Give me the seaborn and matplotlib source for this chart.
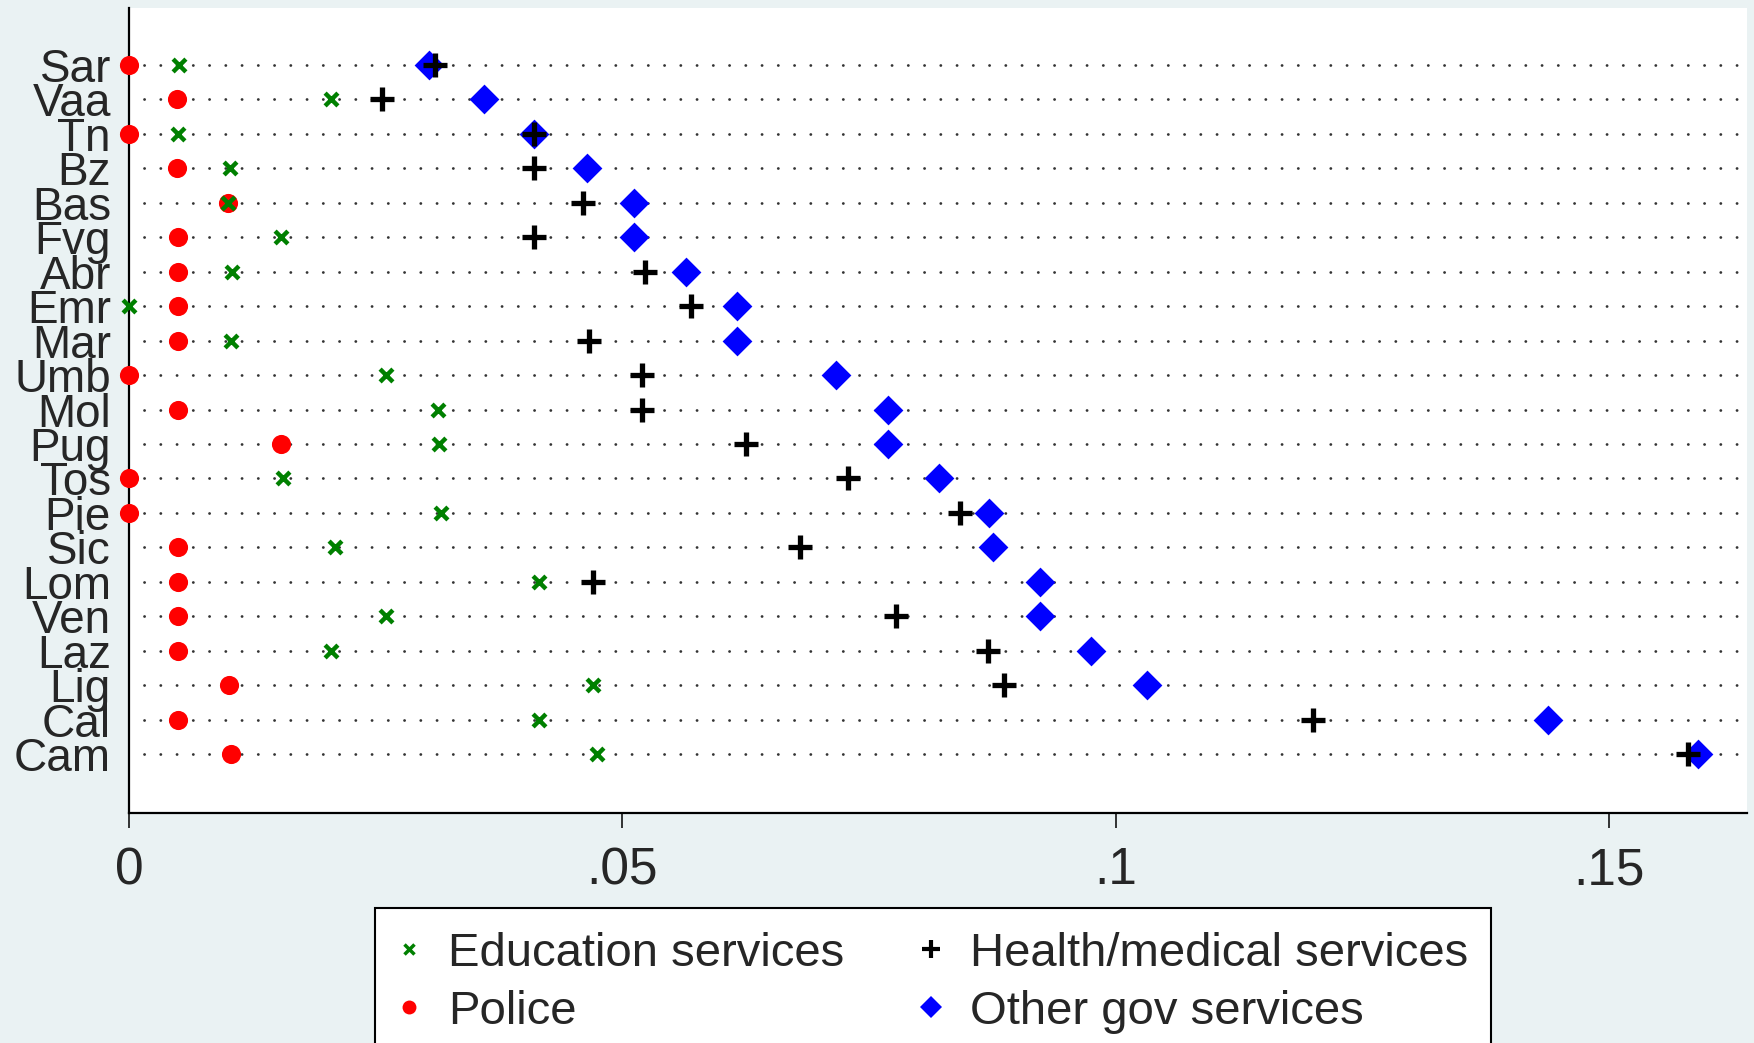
import pandas as pd
import matplotlib.pyplot as plt
from matplotlib.lines import Line2D
import numpy as np
import seaborn as sns

# Regioni, ordinate per "Other gov services"
regioni = ['Sar', 'Vaa', 'Tn', 'Bz', 'Bas', 'Fvg', 'Abr', 'Emr', 'Mar', 'Umb', 'Mol',
           'Pug', 'Tos', 'Pie', 'Sic', 'Lom', 'Ven', 'Laz', 'Lig', 'Cal', 'Cam']

education = [0.0051, 0.0205, 0.0050, 0.0102, 0.0100, 0.0154, 0.0104, 0.0000, 0.0103, 0.0260, 0.0313,
             0.0314, 0.0156, 0.0316, 0.0209, 0.0416, 0.0260, 0.0205, 0.0470, 0.0416, 0.0474]
police = [0.0000, 0.0049, 0.0000, 0.0049, 0.0100, 0.0050, 0.0050, 0.0050, 0.0050, 0.0000, 0.0050,
          0.0154, 0.0000, 0.0000, 0.0050, 0.0050, 0.0050, 0.0050, 0.0101, 0.0050, 0.0103]
health = [0.0310, 0.0256, 0.0410, 0.0410, 0.0460, 0.0410, 0.0523, 0.0570, 0.0466, 0.0520, 0.0520,
          0.0625, 0.0729, 0.0842, 0.0680, 0.0470, 0.0777, 0.0871, 0.0887, 0.1200, 0.1580]
other = [0.0304, 0.0360, 0.0410, 0.0464, 0.0512, 0.0512, 0.0565, 0.0616, 0.0616, 0.0717, 0.0769,
         0.0769, 0.0821, 0.0872, 0.0876, 0.0923, 0.0923, 0.0975, 0.1032, 0.1438, 0.1590]

etichette = ['Education services', 'Police', 'Health/medical services', 'Other gov services']

pos = np.arange(len(regioni))
df = pd.DataFrame({'regione': regioni, 'pos': pos, 'edu': education, 'police': police,
                   'health': health, 'other': other})

sns.set_style('white')
plt.rcParams['font.family'] = ['Liberation Sans', 'DejaVu Sans']

fig = plt.figure(figsize=(17.54, 10.43), dpi=100, facecolor='#eaf2f3')
ax = fig.add_axes([129 / 1754, 230 / 1043, 1618 / 1754, 805 / 1043])
ax.set_facecolor('white')

xmax = 0.164

# linee puntinate
ax.hlines(pos, 0.0015, xmax, colors='#333333', linewidth=2.0,
          linestyles=(0, (0.05, 5.8)), capstyle='round', zorder=1)

# punti delle quattro serie
sns.scatterplot(data=df, x='police', y='pos', marker='o', s=190, color='#ff0000',
                linewidth=0, clip_on=False, zorder=3, ax=ax)
sns.scatterplot(data=df, x='edu', y='pos', marker='x', s=85, color='#008000',
                linewidth=3.2, clip_on=False, zorder=4, ax=ax)
sns.scatterplot(data=df, x='other', y='pos', marker='D', s=230, color='#0000ff',
                linewidth=0, clip_on=False, zorder=5, ax=ax)
sns.scatterplot(data=df, x='health', y='pos', marker='+', s=300, color='black',
                linewidth=3.8, clip_on=False, zorder=6, ax=ax)

ax.set_xlim(0, xmax)
ax.set_ylim(len(regioni) - 1 + 1.71, -1.655)
ax.set_yticks(pos)
ax.set_yticklabels(regioni)
ax.set_xticks([0, 0.05, 0.1, 0.15])
ax.set_xticklabels(['0', '.05', '.1', '.15'])
ax.set_xlabel('')
ax.set_ylabel('')
ax.tick_params(axis='y', length=0, pad=13, labelsize=33)
ax.tick_params(axis='x', length=11, width=1.1, pad=13, labelsize=37, direction='out',
               bottom=True, color='black')

for lato in ['top', 'right']:
    ax.spines[lato].set_visible(False)
for lato in ['left', 'bottom']:
    ax.spines[lato].set_color('black')
    ax.spines[lato].set_linewidth(1.6)
    ax.spines[lato].set_zorder(2)

# legenda (colonne: Education/Police, Health/Other)
maniglie = [
    Line2D([], [], marker='x', linestyle='none', color='#008000', markersize=7, markeredgewidth=2.5),
    Line2D([], [], marker='o', linestyle='none', color='#ff0000', markersize=10, markeredgewidth=0),
    Line2D([], [], marker='+', linestyle='none', color='black', markersize=13, markeredgewidth=3),
    Line2D([], [], marker='D', linestyle='none', color='#0000ff', markersize=11, markeredgewidth=0),
]
leg = fig.legend(maniglie, etichette, ncol=2, loc='upper left',
                 bbox_to_anchor=(375 / 1754, 1 - 908 / 1043), borderaxespad=0,
                 fontsize=34, frameon=True, fancybox=False, edgecolor='black',
                 facecolor='white', framealpha=1, borderpad=0.5, handlelength=0.45,
                 handletextpad=0.6, columnspacing=1.6, labelspacing=0.3)
leg.get_frame().set_linewidth(1.5)

plt.savefig('out.png', dpi=100, facecolor=fig.get_facecolor())
